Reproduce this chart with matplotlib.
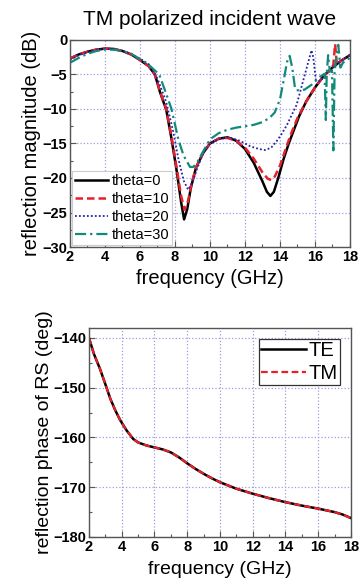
import matplotlib
matplotlib.use("Agg")
import matplotlib.pyplot as plt
from matplotlib.font_manager import FontProperties
from matplotlib.ticker import MultipleLocator

plt.rcParams["font.family"] = ["Liberation Sans", "DejaVu Sans"]

# --- top panel: reflection magnitude (dB), TM incidence ---
f_t0 = [2, 2.5, 3, 3.5, 4, 4.5, 5, 5.5, 6, 6.5, 6.85, 7.15, 7.5, 7.8, 8.1, 8.35,
        8.52, 8.7, 8.9, 9.2, 9.6, 10, 10.5, 11, 11.5, 12, 12.5, 13, 13.25, 13.45,
        13.65, 13.9, 14.2, 14.5, 14.8, 15.1, 15.5, 16, 16.5, 17, 17.5, 18]
db_t0 = [-2.7, -2.1, -1.7, -1.4, -1.25, -1.3, -1.6, -2.1, -2.9, -3.8, -5.0, -7.6,
         -10.1, -14.3, -19.0, -23.5, -26.0, -24.5, -21.5, -18.5, -16.4, -15.0,
         -14.3, -14.1, -14.6, -15.8, -17.8, -20.5, -22.0, -22.6, -22.0, -20.0,
         -17.3, -15.0, -13.0, -11.0, -8.9, -6.9, -5.2, -4.0, -3.0, -2.2]

f_t10 = [2, 2.5, 3, 3.5, 4, 4.5, 5, 5.5, 6, 6.5, 6.85, 7.15, 7.5, 7.8, 8.1, 8.35,
         8.55, 8.75, 8.95, 9.2, 9.6, 10, 10.5, 11, 11.5, 12, 12.5, 13, 13.3, 13.5,
         13.7, 14.0, 14.3, 14.6, 15.0, 15.5, 16, 16.5, 16.9, 17.05, 17.15, 17.25,
         17.5, 18]
db_t10 = [-2.7, -2.1, -1.7, -1.4, -1.25, -1.3, -1.6, -2.1, -2.9, -3.8, -5.0, -7.5,
          -10.0, -14.0, -18.6, -22.6, -24.6, -23.3, -20.8, -18.5, -16.4, -15.0,
          -14.3, -14.2, -14.6, -15.6, -17.2, -19.2, -20.1, -20.3, -19.8, -18.2,
          -16.0, -13.8, -11.3, -8.9, -6.9, -5.2, -4.3, -3.6, -0.6, -3.6, -3.0, -2.2]

f_t20 = [2, 2.5, 3, 3.5, 4, 4.5, 5, 5.5, 6, 6.5, 7, 7.5, 7.9, 8.2, 8.5, 8.75, 9.0,
         9.3, 9.6, 10, 10.5, 11.1, 11.7, 12.3, 12.8, 13.15, 13.5, 13.8, 14.1,
         14.4, 14.95, 15.4, 15.8, 15.9, 16.05, 16.3, 16.6, 17, 17.5, 18]
db_t20 = [-2.9, -2.2, -1.8, -1.45, -1.3, -1.35, -1.6, -2.0, -2.7, -3.5, -5.6,
          -9.0, -13.3, -17.3, -20.4, -21.7, -20.6, -18.4, -16.5, -15.0, -14.4,
          -14.1, -14.6, -15.4, -15.8, -15.95, -15.6, -14.7, -13.6, -12.3, -9.4,
          -5.2, -1.5, -2.5, -5.8, -6.0, -5.0, -4.0, -3.0, -2.2]

f_t30 = [2, 2.5, 3, 3.5, 4, 4.5, 5, 5.5, 6, 6.5, 7.1, 7.5, 7.8, 8.2, 8.5, 8.86,
         9.05, 9.3, 9.6, 10, 10.5, 11, 11.5, 12, 12.5, 13, 13.4, 13.7, 14.0, 14.2,
         14.4, 14.55, 14.7, 14.86, 14.95, 15.4, 15.8, 16.3, 16.55, 16.62, 16.67,
         16.75, 16.85, 16.97, 17.05, 17.12, 17.22, 17.33, 17.45, 17.6, 18]
db_t30 = [-3.3, -2.6, -2.0, -1.6, -1.4, -1.4, -1.6, -2.0, -2.8, -3.6, -5.0, -7.8,
          -10.0, -14.5, -16.8, -18.4, -18.4, -17.6, -16.2, -14.4, -13.5, -13.0,
          -12.7, -12.5, -12.3, -11.9, -11.3, -10.5, -8.6, -6.0, -3.2, -2.3, -4.0,
          -7.0, -7.3, -7.2, -6.5, -5.3, -4.9, -11.6, -5.0, -2.2, -4.6, -4.4,
          -16.0, -4.6, -2.5, -0.7, -4.0, -3.3, -2.6]

# --- bottom panel: reflection phase (deg) ---
f_ph = [2, 2.3, 2.67, 3.0, 3.3, 3.6, 3.9, 4.3, 4.7, 5.0, 5.5, 6.0, 6.5, 7.0,
        7.5, 8.0, 8.5, 9.0, 9.5, 10, 11, 12, 13, 14, 15, 16, 17, 17.5, 18]
ph_te = [-140, -143.2, -146.2, -149.3, -152.2, -154.5, -156.5, -158.6, -160.3,
         -161.0, -161.6, -162.0, -162.4, -163.0, -164.0, -165.2, -166.3, -167.3,
         -168.2, -169.0, -170.3, -171.3, -172.2, -173.0, -173.7, -174.3, -175.0,
         -175.5, -176.2]
ph_tm = [-140, -143.2, -146.2, -149.3, -152.2, -154.5, -156.5, -158.6, -160.3,
         -161.0, -161.6, -162.0, -162.4, -163.0, -164.0, -165.2, -166.3, -167.3,
         -168.2, -169.0, -170.3, -171.3, -172.2, -173.0, -173.7, -174.3, -175.0,
         -175.5, -176.2]

GRID = "#9c9ce0"
SPINE = "#555555"
TICK_FONT = FontProperties(family="Liberation Sans", weight="bold", size=10.5)


def style_axes(ax):
    ax.grid(True, which="major", color=GRID, linestyle=":", linewidth=0.9)
    ax.tick_params(which="both", direction="in", colors=SPINE, labelcolor="black",
                   labelsize=10.5, width=0.8, pad=2)
    ax.tick_params(which="major", length=4)
    ax.tick_params(which="minor", length=2)
    for s in ax.spines.values():
        s.set_color(SPINE)
        s.set_linewidth(1.0)


def bold_ticks(ax):
    for t in ax.xaxis.get_major_ticks() + ax.yaxis.get_major_ticks():
        t.label1.set_fontproperties(TICK_FONT)


fig = plt.figure(figsize=(3.6, 5.87), dpi=100)

ax1 = fig.add_axes([0.1944, 0.5792, 0.7778, 0.3527])
ax1.plot(f_t0, db_t0, color="black", lw=1.8, label="theta=0")
ax1.plot(f_t10, db_t10, color="#e8202a", lw=1.8, ls=(0, (3, 1.6)), label="theta=10")
ax1.plot(f_t20, db_t20, color="#2424a8", lw=1.3, ls=(0, (1, 1.2)), label="theta=20")
ax1.plot(f_t30, db_t30, color="#128a7a", lw=1.6, ls=(0, (5, 1.8, 1, 1.8)), label="theta=30")
ax1.set_xlim(2, 18)
ax1.set_ylim(-30, 0)
ax1.xaxis.set_major_locator(MultipleLocator(2))
ax1.xaxis.set_minor_locator(MultipleLocator(1))
ax1.yaxis.set_major_locator(MultipleLocator(5))
ax1.yaxis.set_minor_locator(MultipleLocator(2.5))
style_axes(ax1)
ax1.set_title("TM polarized incident wave", fontsize=15, pad=11)
ax1.set_xlabel("frequency (GHz)", fontsize=14.5, labelpad=4)
ax1.set_ylabel("reflection magnitude (dB)", fontsize=14.5, labelpad=1)
leg1 = ax1.legend(loc="lower left", prop={"size": 10.5},
                  handlelength=2.25, handletextpad=0.25, labelspacing=0.28,
                  borderpad=0.2, borderaxespad=0.15,
                  fancybox=False, framealpha=1, edgecolor="#cccccc")
leg1.get_frame().set_linewidth(0.8)

ax2 = fig.add_axes([0.2472, 0.0852, 0.7278, 0.356])
ax2.plot(f_ph, ph_te, color="black", lw=1.8, label="TE")
ax2.plot(f_ph, ph_tm, color="#e8202a", lw=1.6, ls=(0, (3, 1.6)), label="TM")
ax2.set_xlim(2, 18)
ax2.set_ylim(-180, -138)
ax2.xaxis.set_major_locator(MultipleLocator(2))
ax2.xaxis.set_minor_locator(MultipleLocator(1))
ax2.yaxis.set_major_locator(MultipleLocator(10))
ax2.yaxis.set_minor_locator(MultipleLocator(5))
style_axes(ax2)
ax2.set_xlabel("frequency (GHz)", fontsize=14, labelpad=5)
ax2.set_ylabel("reflection phase of RS (deg)", fontsize=14, labelpad=0)
leg2 = ax2.legend(loc="upper right", prop={"size": 14.5},
                  handlelength=2.2, handletextpad=0.15, labelspacing=0.2,
                  borderpad=0.1, borderaxespad=0.55,
                  fancybox=False, framealpha=1, edgecolor="#333333")
leg2.get_frame().set_linewidth(0.9)

# ticks exist only after a first draw; make their labels bold then
fig.canvas.draw()
bold_ticks(ax1)
bold_ticks(ax2)

fig.savefig("out.png", dpi=100)
